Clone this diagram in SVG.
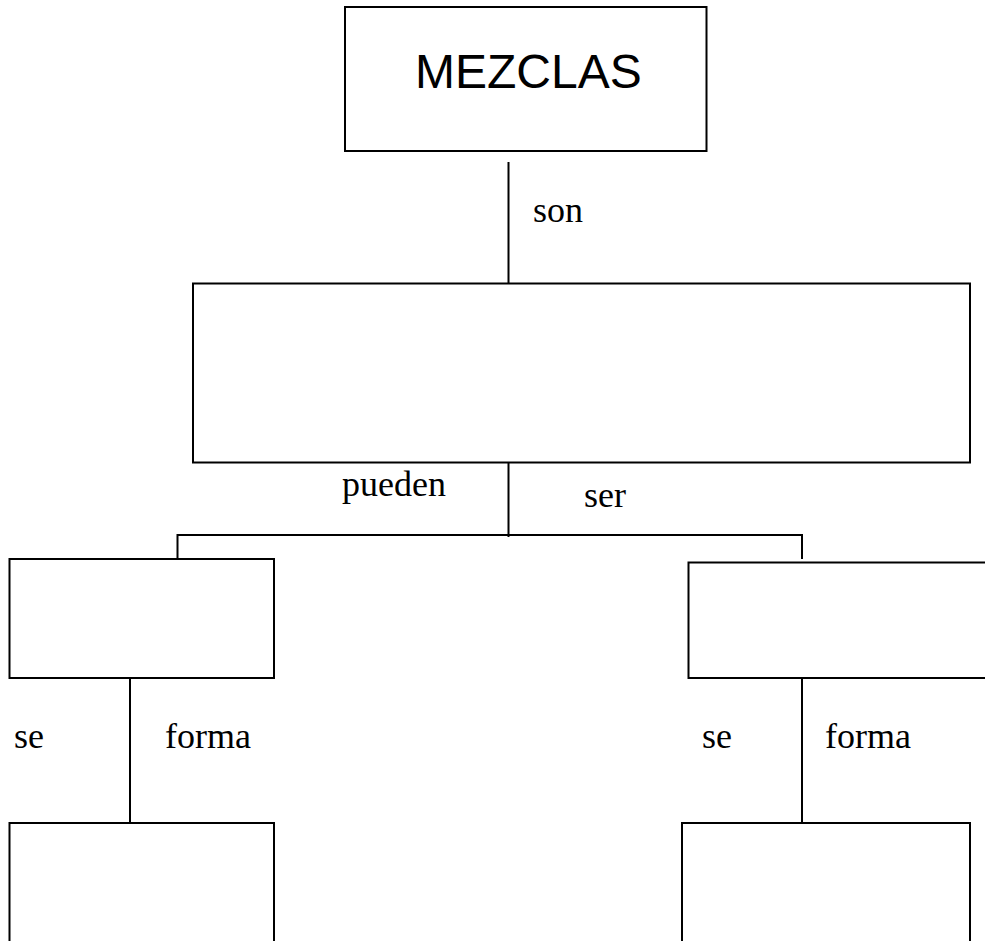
<svg xmlns="http://www.w3.org/2000/svg" width="985" height="941" viewBox="0 0 985 941">
<style>
.box{fill:#fff;stroke:#000;stroke-width:2}
.ln{stroke:#000;stroke-width:2;fill:none}
.lbl{font-family:"Liberation Serif","Times New Roman",serif;font-size:36px;fill:#000}
.title{font-family:"Liberation Sans",Arial,sans-serif;font-size:48px;fill:#000}
</style>
<rect width="985" height="941" fill="#fff"/>
<g id="connectors">
<line class="ln" x1="508.5" y1="162" x2="508.5" y2="283"/>
<line class="ln" x1="508.5" y1="463" x2="508.5" y2="537"/>
<polyline class="ln" points="177.5,559 177.5,535 802,535 802,559"/>
<line class="ln" x1="130" y1="678" x2="130" y2="823"/>
<line class="ln" x1="802" y1="678" x2="802" y2="823"/>
<text class="lbl" x="533" y="222">son</text>
<text class="lbl" x="342" y="496">pueden</text>
<text class="lbl" x="584" y="507">ser</text>
<text class="lbl" x="14" y="748">se</text>
<text class="lbl" x="165" y="748">forma</text>
<text class="lbl" x="702" y="748">se</text>
<text class="lbl" x="825" y="748">forma</text>
</g>
<g id="mezclas">
<rect class="box" x="345" y="7" width="361.5" height="144"/>
<text class="title" x="415" y="88">MEZCLAS</text>
</g>
<g id="tipos">
<rect class="box" x="193" y="283.5" width="777" height="179"/>
</g>
<g id="left">
<rect class="box" x="9.5" y="559" width="264.5" height="119"/>
</g>
<g id="right">
<rect class="box" x="688.5" y="562.5" width="310" height="115.5"/>
</g>
<g id="left-bottom">
<rect class="box" x="9.5" y="823" width="264.5" height="140"/>
</g>
<g id="right-bottom">
<rect class="box" x="682" y="823" width="288" height="140"/>
</g>
</svg>
